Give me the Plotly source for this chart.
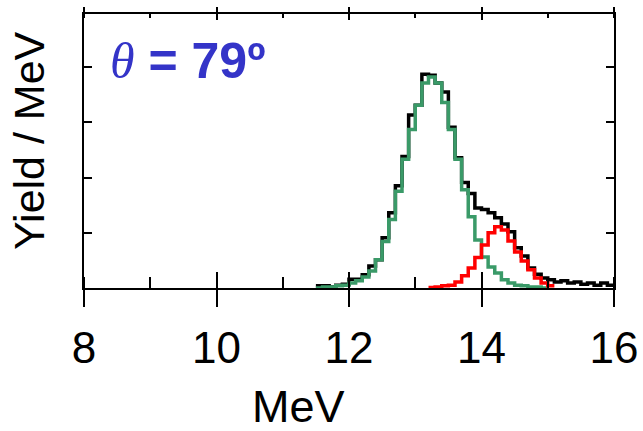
import plotly.graph_objects as go

# Bin lower edges (MeV), 0.1 MeV wide
bin_width = 0.1

# Measured spectrum (black)
data_start = 11.5
data_yield = [4, 4, 2, 5, 7, 16, 16, 24, 40, 51, 91, 136, 185, 238, 313, 331, 387,
              385, 371, 355, 291, 236, 191, 171, 145, 142, 136, 127, 116, 102, 73, 58,
              36, 25, 18, 15, 11, 13, 9, 11, 7, 9, 5, 9, 5]

# Fitted component at lower energy (green)
green_start = 11.5
green_yield = [0, 2, 2, 4, 5, 9, 13, 20, 31, 51, 84, 124, 175, 233, 287, 331, 371, 382,
               371, 336, 287, 233, 178, 129, 87, 56, 38, 27, 15, 9, 5, 4, 2, 2, 0]

# Fitted component at higher energy (red)
red_start = 13.2
red_yield = [1, 2, 4, 5, 11, 22, 36, 55, 78, 100, 111, 105, 85, 65, 49, 33, 18, 9, 4]

x_range = [8, 16]
x_ticks = [8, 10, 12, 14, 16]
y_range = [0, 496]
y_dtick = 100


def step_xy(start, values):
    xs = [round(start + i * bin_width, 3) for i in range(len(values) + 1)]
    ys = list(values) + [values[-1]]
    return xs, ys


fig = go.Figure()
for start, vals, color in [(data_start, data_yield, "black"),
                           (green_start, green_yield, "#3a9a68"),
                           (red_start, red_yield, "#ff0000")]:
    xs, ys = step_xy(start, vals)
    fig.add_trace(go.Scatter(x=xs, y=ys, mode="lines", line_shape="hv",
                             line=dict(color=color, width=3.5), showlegend=False,
                             hoverinfo="skip"))

font_family = "Arial, Liberation Sans, sans-serif"
common = dict(automargin=False, showgrid=False, zeroline=False)

fig.update_layout(
    width=643, height=431,
    margin=dict(l=84, r=29, t=14, b=143),
    paper_bgcolor="white", plot_bgcolor="white",
    font=dict(family=font_family, color="black"),
    xaxis=dict(range=x_range, tickvals=x_ticks, ticks="outside", ticklen=17,
               tickwidth=2, tickcolor="black", showline=True, linewidth=2,
               linecolor="black", mirror=True, ticklabelstandoff=3,
               tickfont=dict(size=44, family=font_family),
               minor=dict(ticks="inside", dtick=1, tick0=8, ticklen=11,
                          tickwidth=2, tickcolor="black", showgrid=False),
               **common),
    xaxis2=dict(range=x_range, overlaying="x", tickvals=x_ticks, ticks="inside",
                ticklen=16, tickwidth=2, tickcolor="black", showticklabels=False,
                showline=False, **common),
    xaxis3=dict(range=x_range, overlaying="x", side="top", tickvals=x_ticks,
                ticks="outside", ticklen=6, tickwidth=2, tickcolor="black",
                showticklabels=False, showline=False,
                minor=dict(ticks="inside", dtick=1, tick0=8, ticklen=4,
                           tickwidth=2, tickcolor="black", showgrid=False),
                **common),
    xaxis4=dict(range=x_range, overlaying="x", side="top", tickvals=x_ticks,
                ticks="inside", ticklen=6, tickwidth=2, tickcolor="black",
                showticklabels=False, showline=False, **common),
    yaxis=dict(range=y_range, dtick=y_dtick, tick0=0, ticks="inside", ticklen=8,
               tickwidth=2, tickcolor="black", showline=True, linewidth=2,
               linecolor="black", mirror="ticks", showticklabels=False, **common),
)

# Empty traces so the extra tick axes are drawn
for ax in ["x2", "x3", "x4"]:
    fig.add_trace(go.Scatter(x=[None], y=[None], xaxis=ax, yaxis="y",
                             showlegend=False, hoverinfo="skip"))

# Axis titles
fig.add_annotation(text="MeV", xref="paper", yref="paper", x=0.404, y=0,
                   yanchor="middle", yshift=-118, showarrow=False,
                   font=dict(size=45, family=font_family, color="black"))
fig.add_annotation(text="Yield / MeV", xref="paper", yref="paper", x=0, y=0.5,
                   xanchor="center", xshift=-55, yshift=10, textangle=-90,
                   showarrow=False,
                   font=dict(size=43, family=font_family, color="black"))

# Angle label
fig.add_annotation(
    text="<span style='font-family:Liberation Serif'><i>θ</i></span><b> = 79º</b>",
    xref="paper", yref="paper", x=0.046, y=1, xanchor="left", yanchor="middle",
    yshift=-47, showarrow=False,
    font=dict(size=50, family=font_family, color="#3434c8"))

fig.write_html("out.html")
